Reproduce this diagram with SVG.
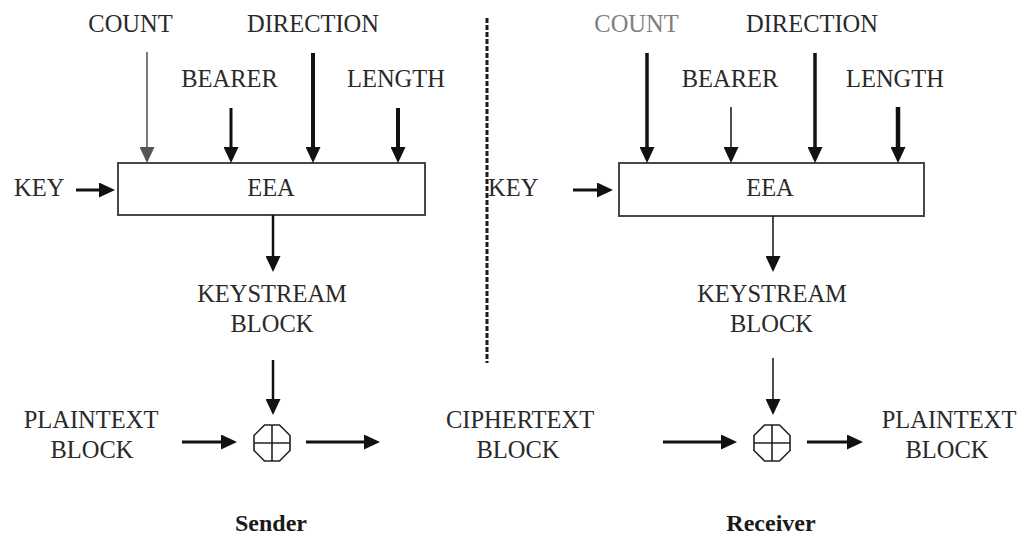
<svg xmlns="http://www.w3.org/2000/svg" xmlns:xlink="http://www.w3.org/1999/xlink" width="1022" height="539" viewBox="0 0 1022 539">
  <style>
    .lbl { font-family: "Liberation Serif", "Times New Roman", serif; font-size: 24.5px; fill: #2a2a2a; text-anchor: middle; }
    .st { text-anchor: start; }
    .soft { fill: #808080; }
    .role { font-family: "Liberation Serif", "Times New Roman", serif; font-size: 24px; font-weight: bold; fill: #1a1a1a; text-anchor: middle; }
    .box { fill: #ffffff; stroke: #474747; stroke-width: 2; }
    .arr { stroke: #111111; fill: none; marker-end: url(#head); }
    .arrGray { stroke: #6a6a6a; fill: none; marker-end: url(#headGray); }
    .xor { fill: none; stroke: #222222; stroke-width: 1.6; }
    .divider { stroke: #1a1a1a; stroke-width: 3; stroke-dasharray: 5 2; }
  </style>
  <defs>
    <marker id="head" viewBox="0 0 16 15" refX="1" refY="7.5" markerWidth="16" markerHeight="15" markerUnits="userSpaceOnUse" orient="auto">
      <path d="M0,0 L16,7.5 L0,15 z" fill="#111111"/>
    </marker>
    <marker id="headGray" viewBox="0 0 16 15" refX="1" refY="7.5" markerWidth="16" markerHeight="15" markerUnits="userSpaceOnUse" orient="auto">
      <path d="M0,0 L16,7.5 L0,15 z" fill="#555555"/>
    </marker>
    <!-- exclusive-or symbol: octagon with a cross -->
    <g id="xorSym" class="xor">
      <polygon points="18.02,-7.46 18.02,7.46 7.46,18.02 -7.46,18.02 -18.02,7.46 -18.02,-7.46 -7.46,-18.02 7.46,-18.02"/>
      <line x1="-18" y1="0" x2="18" y2="0"/>
      <line x1="0" y1="-18" x2="0" y2="18"/>
    </g>
  </defs>

  <rect width="1022" height="539" fill="#ffffff"/>

  <!-- sender side -->
  <g id="s-count"><text class="lbl" x="130.5" y="32">COUNT</text></g>
  <g id="s-direction"><text class="lbl" x="313" y="32">DIRECTION</text></g>
  <g id="s-bearer"><text class="lbl" x="229.5" y="87">BEARER</text></g>
  <g id="s-length"><text class="lbl" x="396" y="87">LENGTH</text></g>
  <g id="s-key"><text class="lbl st" x="14" y="196">KEY</text></g>
  <g id="s-eea">
    <rect class="box" x="118" y="163" width="307" height="52"/>
    <text class="lbl" x="271" y="196">EEA</text>
  </g>
  <g id="s-keystream">
    <text class="lbl" x="272" y="302">KEYSTREAM</text>
    <text class="lbl" x="272" y="332">BLOCK</text>
  </g>
  <g id="s-xor"><use xlink:href="#xorSym" x="272" y="443"/></g>
  <g id="s-plaintext">
    <text class="lbl" x="91" y="428">PLAINTEXT</text>
    <text class="lbl" x="92" y="458">BLOCK</text>
  </g>
  <g id="s-role"><text class="role" x="271" y="531">Sender</text></g>

  <!-- channel -->
  <g id="ciphertext">
    <text class="lbl" x="520" y="428">CIPHERTEXT</text>
    <text class="lbl" x="518" y="458">BLOCK</text>
  </g>

  <!-- receiver side -->
  <g id="r-count"><text class="lbl soft" x="636.5" y="32">COUNT</text></g>
  <g id="r-direction"><text class="lbl" x="812" y="32">DIRECTION</text></g>
  <g id="r-bearer"><text class="lbl" x="730" y="87">BEARER</text></g>
  <g id="r-length"><text class="lbl" x="895" y="87">LENGTH</text></g>
  <g id="r-key"><text class="lbl st" x="488" y="196">KEY</text></g>
  <g id="r-eea">
    <rect class="box" x="619" y="163" width="305" height="53"/>
    <text class="lbl" x="770" y="196">EEA</text>
  </g>
  <g id="r-keystream">
    <text class="lbl" x="772" y="302">KEYSTREAM</text>
    <text class="lbl" x="771.5" y="332">BLOCK</text>
  </g>
  <g id="r-xor"><use xlink:href="#xorSym" x="772" y="443"/></g>
  <g id="r-plaintext">
    <text class="lbl" x="949" y="428">PLAINTEXT</text>
    <text class="lbl" x="947" y="458">BLOCK</text>
  </g>
  <g id="r-role"><text class="role" x="771" y="531">Receiver</text></g>

  <!-- connectors -->
  <g id="connectors">
    <line class="divider" x1="487" y1="18" x2="487" y2="363"/>

    <!-- sender inputs -->
    <line class="arrGray" stroke-width="1.8" x1="147" y1="52" x2="147" y2="148"/>
    <line class="arr" stroke-width="3" x1="231" y1="108" x2="231" y2="148"/>
    <line class="arr" stroke-width="4" x1="313" y1="53" x2="313" y2="148"/>
    <line class="arr" stroke-width="4" x1="398" y1="108" x2="398" y2="148"/>
    <line class="arr" stroke-width="3" x1="76" y1="190" x2="100" y2="190"/>
    <line class="arr" stroke-width="2.5" x1="273" y1="215" x2="273" y2="257"/>
    <line class="arr" stroke-width="2.5" x1="273" y1="360" x2="273" y2="400"/>
    <line class="arr" stroke-width="3" x1="182" y1="442" x2="222" y2="442"/>
    <line class="arr" stroke-width="3" x1="306" y1="442" x2="365" y2="442"/>

    <!-- receiver inputs -->
    <line class="arr" stroke-width="3.5" x1="647" y1="53" x2="647" y2="148"/>
    <line class="arr" stroke-width="1.5" x1="731" y1="107" x2="731" y2="148"/>
    <line class="arr" stroke-width="3.5" x1="815" y1="53" x2="815" y2="148"/>
    <line class="arr" stroke-width="4.5" x1="898" y1="107" x2="898" y2="148"/>
    <line class="arr" stroke-width="3" x1="573" y1="190" x2="598" y2="190"/>
    <line class="arr" stroke-width="1.5" x1="773" y1="216" x2="773" y2="257"/>
    <line class="arr" stroke-width="1.5" x1="773" y1="358" x2="773" y2="400"/>
    <line class="arr" stroke-width="3" x1="663" y1="442" x2="722" y2="442"/>
    <line class="arr" stroke-width="3" x1="807" y1="442" x2="848" y2="442"/>
  </g>
</svg>
